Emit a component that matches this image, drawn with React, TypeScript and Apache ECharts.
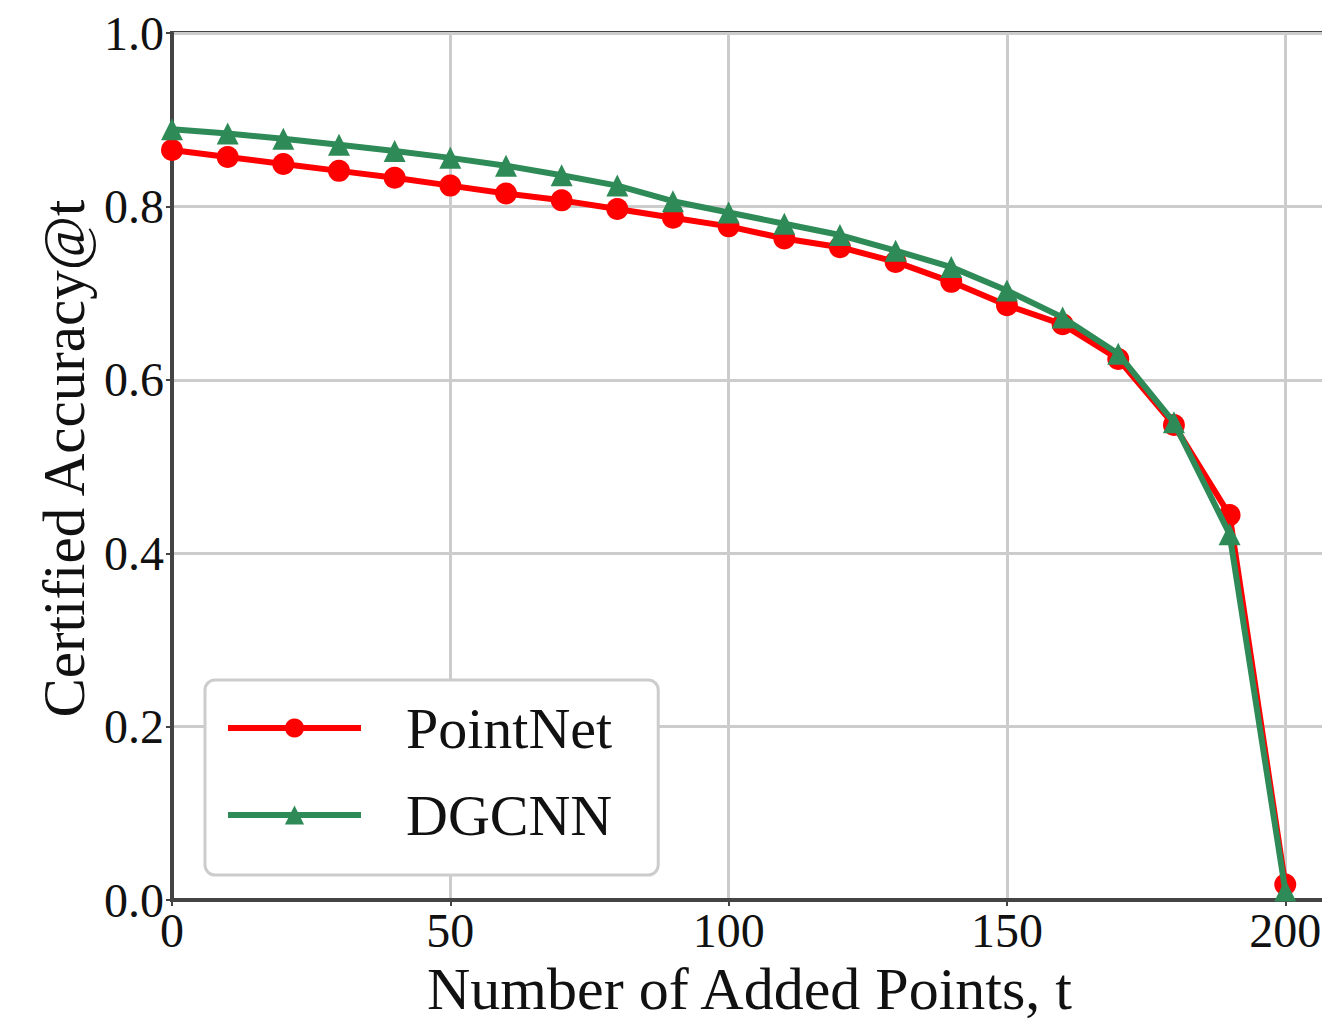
import React, { useEffect, useRef } from "react";
import * as echarts from "echarts";

const addedPoints = [0, 10, 20, 30, 40, 50, 60, 70, 80, 90, 100, 110, 120, 130, 140, 150, 160, 170, 180, 190, 200];
const pointNet = [0.865, 0.857, 0.849, 0.841, 0.833, 0.824, 0.815, 0.807, 0.797, 0.787, 0.777, 0.763, 0.753, 0.736, 0.713, 0.686, 0.664, 0.624, 0.548, 0.444, 0.018];
const dgcnn = [0.889, 0.884, 0.878, 0.871, 0.864, 0.856, 0.847, 0.836, 0.824, 0.806, 0.793, 0.780, 0.767, 0.749, 0.730, 0.703, 0.672, 0.630, 0.551, 0.422, 0.011];
const xTicks = [0, 50, 100, 150, 200];
const seriesNames = ["PointNet", "DGCNN"];

const FONT = "Liberation Serif";

export default function App() {
  const ref = useRef<HTMLDivElement>(null);
  useEffect(() => {
    document.body.style.margin = "0";
    const chart = echarts.init(ref.current!, null, { renderer: "svg" });
    const toPairs = (ys: number[]) => addedPoints.map((x, i) => [x, ys[i]]);
    chart.setOption({
      animation: false,
      backgroundColor: "#ffffff",
      grid: {
        left: 172,
        top: 33,
        right: 0,
        bottom: 117,
        show: true,
        borderColor: "#444444",
        borderWidth: 4,
        backgroundColor: "transparent",
      },
      xAxis: {
        type: "value",
        min: 0,
        max: 207.5,
        interval: 50,
        name: "Number of Added Points, t",
        nameLocation: "middle",
        nameGap: 52,
        nameTextStyle: { fontFamily: FONT, fontSize: 60, color: "#111" },
        axisLine: { show: true, lineStyle: { color: "#444444", width: 4 } },
        axisTick: { show: true, length: 6, lineStyle: { color: "#444", width: 2 } },
        axisLabel: {
          fontFamily: FONT,
          fontSize: 48,
          color: "#111",
          margin: 6,
          formatter: (v: number) => (xTicks.includes(v) ? String(v) : ""),
        },
        splitLine: { show: true, lineStyle: { color: "#cccccc", width: 3 } },
      },
      yAxis: {
        type: "value",
        min: 0,
        max: 1,
        interval: 0.2,
        name: "Certified Accuracy@t",
        nameLocation: "middle",
        nameGap: 76,
        nameTextStyle: { fontFamily: FONT, fontSize: 59, color: "#111", padding: [0, 0, 0, 16] },
        axisLine: { show: true, lineStyle: { color: "#444444", width: 4 } },
        axisTick: { show: true, length: 6, lineStyle: { color: "#444", width: 2 } },
        axisLabel: {
          fontFamily: FONT,
          fontSize: 48,
          color: "#111",
          margin: 8,
          formatter: (v: number) => v.toFixed(1),
        },
        splitLine: { show: true, lineStyle: { color: "#cccccc", width: 3 } },
      },
      legend: {
        orient: "vertical",
        left: 205,
        top: 680,
        data: seriesNames,
        itemWidth: 133,
        itemHeight: 24,
        itemGap: 27,
        padding: [18, 46, 30, 20],
        backgroundColor: "#ffffff",
        borderColor: "#cccccc",
        borderWidth: 3,
        borderRadius: 10,
        lineStyle: { width: 6 },
        textStyle: {
          fontFamily: FONT,
          fontSize: 58,
          color: "#111",
          lineHeight: 60,
          padding: [0, 0, 0, 40],
        },
      },
      series: [
        {
          name: seriesNames[0],
          type: "line",
          data: toPairs(pointNet),
          symbol: "circle",
          symbolSize: 22,
          color: "#ff0000",
          lineStyle: { color: "#ff0000", width: 6 },
          itemStyle: { color: "#ff0000" },
          z: 2,
        },
        {
          name: seriesNames[1],
          type: "line",
          data: toPairs(dgcnn),
          symbol: "triangle",
          symbolSize: 22,
          color: "#2e8b57",
          lineStyle: { color: "#2e8b57", width: 6 },
          itemStyle: { color: "#2e8b57" },
          z: 3,
        },
      ],
    });
    return () => chart.dispose();
  }, []);
  return (
    <div style={{ width: 1322, height: 1024, overflow: "hidden" }}>
      <div ref={ref} style={{ width: 1330, height: 1024 }} />
    </div>
  );
}
